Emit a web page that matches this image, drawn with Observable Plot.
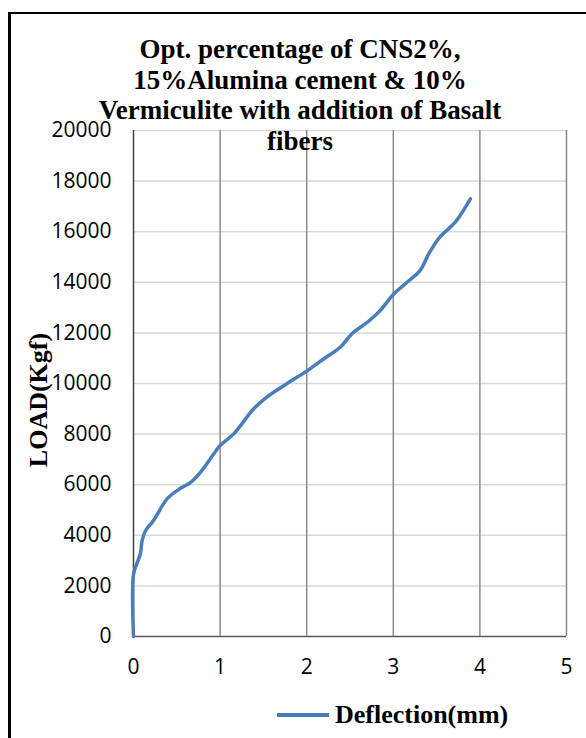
<!DOCTYPE html>
<html>
<head>
<meta charset="utf-8">
<script src="https://cdn.jsdelivr.net/npm/d3@7"></script>
<script src="https://cdn.jsdelivr.net/npm/@observablehq/plot@0.6"></script>
<style>
  html, body { margin: 0; padding: 0; background: #fff; width: 586px; height: 738px; overflow: hidden; }
  #wrap { position: relative; width: 586px; height: 738px; }
  #frame { position: absolute; left: 8px; top: 12px; width: 700px; height: 800px; border-left: 3px solid #000; border-top: 2px solid #000; }
  #chart { position: absolute; left: 0; top: 0; }
  #title { position: absolute; left: 50px; width: 500px; top: 34px; text-align: center; font: bold 27px "Liberation Serif", serif; line-height: 30.5px; color: #000; }
  #ylabel { position: absolute; left: 39px; top: 400px; transform: translate(-50%, -50%) rotate(-90deg); font: bold 26px "Liberation Serif", serif; white-space: nowrap; color: #000; }
  #legend { position: absolute; left: 277px; top: 700px; display: flex; align-items: center; font: bold 26px "Liberation Serif", serif; color: #000; }
  #legend .sw { width: 52px; height: 4px; background: #4a7ebb; margin-right: 6px; }
</style>
</head>
<body>
<div id="wrap">
  <div id="frame"></div>
  <div id="chart"></div>
  <div id="title">Opt. percentage of CNS2%,<br>15%Alumina cement &amp; 10%<br>Vermiculite with addition of Basalt<br>fibers</div>
  <div id="ylabel">LOAD(Kgf)</div>
  <div id="legend"><span class="sw"></span><span>Deflection(mm)</span></div>
</div>
<script>
const deflection = [0, 0, 0.04, 0.08, 0.1, 0.14, 0.23, 0.39, 0.54, 0.66, 0.77, 0.93, 1.0, 1.16, 1.39, 1.54, 1.77, 2.0, 2.2, 2.39, 2.52, 2.7, 2.85, 3.0, 3.16, 3.31, 3.41, 3.53, 3.72, 3.89];
const load = [0, 2450, 2890, 3280, 3800, 4190, 4580, 5450, 5850, 6090, 6480, 7230, 7550, 8020, 9010, 9460, 9990, 10490, 10980, 11440, 11960, 12420, 12890, 13520, 14000, 14470, 15130, 15760, 16400, 17300];
const xTicks = [0, 1, 2, 3, 4, 5];
const yTicks = [0, 2000, 4000, 6000, 8000, 10000, 12000, 14000, 16000, 18000, 20000];

const data = deflection.map((d, i) => ({x: d, y: load[i]}));

const chart = Plot.plot({
  width: 586,
  height: 738,
  marginLeft: 133,
  marginRight: 20,
  marginTop: 130,
  marginBottom: 102,
  style: {fontFamily: "'Open Sans', sans-serif", fontSize: "21px", color: "#000", background: "transparent"},
  x: {domain: [0, 5], ticks: xTicks, tickSize: 0, tickPadding: 23, tickFormat: d => String(d), label: null},
  y: {domain: [0, 20000], ticks: yTicks, tickSize: 0, tickPadding: 22, tickFormat: d => String(d), label: null},
  marks: [
    Plot.ruleY(yTicks.slice(1), {stroke: "#d9d9d9", strokeWidth: 1.5, strokeOpacity: 1}),
    Plot.ruleX(xTicks.slice(1), {stroke: "#8c8c8c", strokeWidth: 1.5, strokeOpacity: 1}),
    Plot.ruleX([0], {stroke: "#404040", strokeWidth: 1.5}),
    Plot.ruleY([0], {stroke: "#595959", strokeWidth: 1.5}),
    Plot.line(data, {x: "x", y: "y", stroke: "#4a7ebb", strokeWidth: 3.5, curve: "catmull-rom"})
  ]
});
document.getElementById("chart").appendChild(chart);
</script>
</body>
</html>
